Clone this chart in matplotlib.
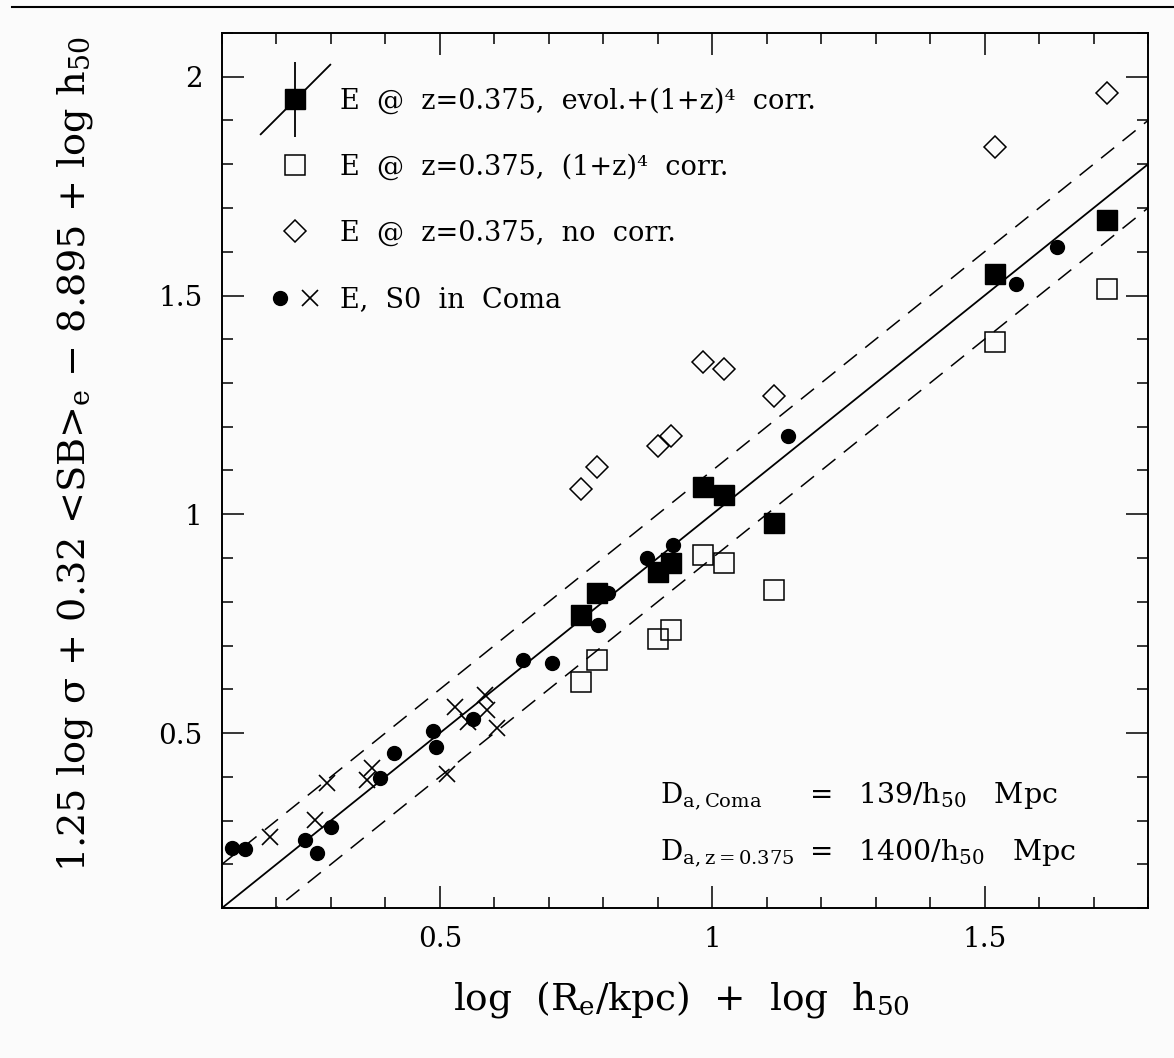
import matplotlib
matplotlib.use('Agg')
import matplotlib.pyplot as plt
from matplotlib.lines import Line2D
from matplotlib.legend_handler import HandlerTuple
from matplotlib.ticker import MultipleLocator, FuncFormatter
import numpy as np

plt.rcParams['font.family'] = 'DejaVu Serif'
plt.rcParams['mathtext.default'] = 'regular'

# E galaxies at z=0.375 (same log Re, three versions of the y quantity)
z_logre = [0.759, 0.788, 0.900, 0.924, 0.983, 1.022, 1.114, 1.519, 1.725]
z_evol_corr = [0.769, 0.821, 0.867, 0.888, 1.063, 1.043, 0.981, 1.550, 1.673]
z_dim_corr = [0.616, 0.668, 0.716, 0.735, 0.908, 0.888, 0.828, 1.394, 1.515]
z_no_corr = [1.057, 1.107, 1.157, 1.178, 1.349, 1.331, 1.271, 1.840, 1.963]

# Coma: filled circles and crosses
coma_dot_x = [0.118, 0.142, 0.252, 0.274, 0.300, 0.390, 0.416, 0.487, 0.493, 0.561,
              0.653, 0.706, 0.790, 0.809, 0.880, 0.928, 1.139, 1.558, 1.633]
coma_dot_y = [0.237, 0.235, 0.255, 0.226, 0.285, 0.397, 0.454, 0.504, 0.468, 0.532,
              0.668, 0.659, 0.746, 0.819, 0.899, 0.929, 1.178, 1.527, 1.611]
coma_x_x = [0.188, 0.271, 0.293, 0.366, 0.375, 0.513, 0.528, 0.552, 0.583, 0.586, 0.605]
coma_x_y = [0.262, 0.301, 0.385, 0.392, 0.420, 0.406, 0.559, 0.525, 0.586, 0.552, 0.511]

# fundamental plane relation and scatter band
fp_slope = 1.0
fp_zero = 0.0
fp_band = 0.1

legend_labels = [
    'E  @  z=0.375,  evol.+(1+z)⁴  corr.',
    'E  @  z=0.375,  (1+z)⁴  corr.',
    'E  @  z=0.375,  no  corr.',
    'E,  S0  in  Coma',
]

bg = '#fbfbfb'
W, H = 1174, 1058
fig = plt.figure(figsize=(W / 100, H / 100), dpi=100, facecolor=bg)
ax = fig.add_axes([222 / W, 150 / H, 926 / W, 875 / H], facecolor=bg)

xlim = (0.1, 1.8)
ylim = (0.1, 2.1)
line_x = np.array(xlim)
line_y = fp_slope * line_x + fp_zero
ax.plot(line_x, line_y, color='k', lw=1.3, zorder=2)
ax.plot(line_x, line_y + fp_band, color='k', lw=1.1, dashes=(11, 7), zorder=2)
ax.plot(line_x, line_y - fp_band, color='k', lw=1.1, dashes=(11, 7), zorder=2)

ax.plot(z_logre, z_no_corr, ls='none', marker='D', ms=11.5, mfc='none', mec='k', mew=1.1, zorder=3)
ax.plot(z_logre, z_dim_corr, ls='none', marker='s', ms=15, mfc='none', mec='k', mew=1.1, zorder=3)
ax.plot(coma_x_x, coma_x_y, ls='none', marker='x', ms=11.5, mec='k', mew=1.2, zorder=3)
ax.plot(z_logre, z_evol_corr, ls='none', marker='s', ms=14.4, mfc='k', mec='k', zorder=4)
ax.plot(coma_dot_x, coma_dot_y, ls='none', marker='o', ms=10, mfc='k', mec='k', zorder=4)

ax.set_xlim(*xlim)
ax.set_ylim(*ylim)

fmt = FuncFormatter(lambda v, p: '%g' % v)
for axis in (ax.xaxis, ax.yaxis):
    axis.set_major_locator(MultipleLocator(0.5))
    axis.set_minor_locator(MultipleLocator(0.1))
    axis.set_major_formatter(fmt)
ax.tick_params(which='both', direction='in', top=True, right=True, width=1.1, labelsize=20)
ax.tick_params(which='major', length=16)
ax.tick_params(which='minor', length=8)
ax.tick_params(axis='x', pad=13)
ax.tick_params(axis='y', pad=14)
for sp in ax.spines.values():
    sp.set_linewidth(1.4)

# legend
h1 = (Line2D([], [], ls='none', marker='s', ms=14.4, mfc='k', mec='k'),
      Line2D([], [], ls='none', marker='|', ms=54, mew=1.3, color='k'),
      Line2D([], [], ls='none', marker=[(-1, -1), (1, 1)], ms=51, mew=1.3, mfc='none', mec='k'))
h2 = Line2D([], [], ls='none', marker='s', ms=15, mfc='none', mec='k', mew=1.1)
h3 = Line2D([], [], ls='none', marker='D', ms=11.5, mfc='none', mec='k', mew=1.1)
h4 = (Line2D([], [], ls='none', marker='o', ms=10, mfc='k', mec='k'),
      Line2D([], [], ls='none', marker='x', ms=11.5, mec='k', mew=1.2))
ax.legend([h1, h2, h3, h4], legend_labels,
          handler_map={h1: HandlerTuple(ndivide=1), h4: HandlerTuple(ndivide=2, pad=0)},
          loc='upper left', bbox_to_anchor=(0.047, 0.938), frameon=False,
          fontsize=19.5, handlelength=2.2, handletextpad=0.55, labelspacing=1.45,
          borderpad=0, borderaxespad=0)

# distances
ax.text(0.473, 0.12, 'D$_{a,Coma}$', fontsize=20, ha='left', va='baseline', transform=ax.transAxes)
ax.text(0.648, 0.12, '=', fontsize=20, ha='center', va='baseline', transform=ax.transAxes)
ax.text(0.687, 0.12, '139/h$_{50}$   Mpc', fontsize=20.5, ha='left', va='baseline', transform=ax.transAxes)
ax.text(0.473, 0.055, 'D$_{a,z=0.375}$', fontsize=20, ha='left', va='baseline', transform=ax.transAxes)
ax.text(0.648, 0.055, '=', fontsize=20, ha='center', va='baseline', transform=ax.transAxes)
ax.text(0.687, 0.055, '1400/h$_{50}$   Mpc', fontsize=20.5, ha='left', va='baseline', transform=ax.transAxes)

# axis labels
fig.text(681 / W, 1 - 1000 / H, 'log  (R$_e$/kpc)  +  log  h$_{50}$', fontsize=27,
         ha='center', va='center')
fig.text(75 / W, 1 - 454 / H, r'1.25 log $\sigma$ + 0.32 <SB>$_e$ $-$ 8.895 + log h$_{50}$',
         fontsize=27.5, ha='center', va='center', rotation=90)

# page rule at the top
fig.add_artist(Line2D([12 / W, 1], [1 - 7 / H, 1 - 7 / H], color='k', lw=1.5, transform=fig.transFigure))

fig.savefig('out.png', dpi=100, facecolor=bg)
